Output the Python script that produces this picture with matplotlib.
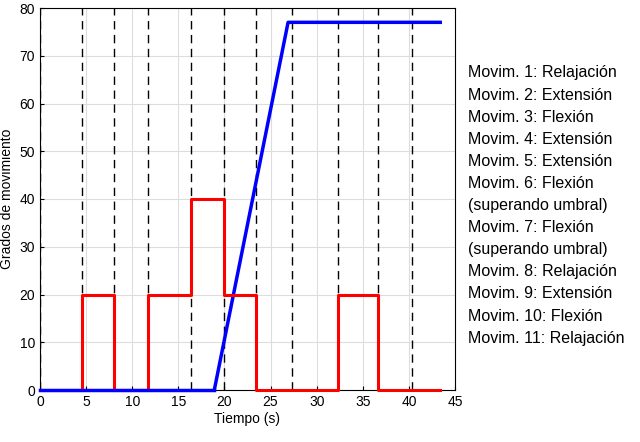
import matplotlib
matplotlib.use("Agg")
from matplotlib import pyplot as plt

plt.rcParams['font.family'] = ['Liberation Sans', 'DejaVu Sans']

# movement boundaries (s)
bounds = [0, 4.6, 8.0, 11.7, 16.4, 20.0, 23.4, 27.3, 32.3, 36.6, 40.3]

# red step signal
red_t = [0, 4.6, 4.6, 8.0, 8.0, 11.7, 11.7, 16.4, 16.4, 20.0, 20.0, 23.4, 23.4, 32.3, 32.3, 36.6, 36.6, 43.4]
red_v = [0, 0, 20, 20, 0, 0, 20, 20, 40, 40, 20, 20, 0, 0, 20, 20, 0, 0]

# blue ramp
blue_t = [0, 18.9, 26.9, 43.4]
blue_v = [0, 0, 77, 77]

labels = ["Movim. 1: Relajación", "Movim. 2: Extensión", "Movim. 3: Flexión",
          "Movim. 4: Extensión", "Movim. 5: Extensión", "Movim. 6: Flexión",
          "(superando umbral)", "Movim. 7: Flexión", "(superando umbral)",
          "Movim. 8: Relajación", "Movim. 9: Extensión", "Movim. 10: Flexión",
          "Movim. 11: Relajación"]

fig = plt.figure(figsize=(6.4, 4.42), dpi=100)
ax = fig.add_axes([40/640, 1-390/442, 415/640, 382/442])

ax.grid(True, color='#dddddd', linewidth=0.8)
for b in bounds:
    ax.axvline(b, color='black', linestyle=(0, (6, 4)), linewidth=1.0)
ax.plot(red_t, red_v, color='red', linewidth=2.2, clip_on=False, zorder=4)
ax.plot(blue_t[:2], blue_v[:2], color='blue', linewidth=2.5, clip_on=False, zorder=5)
ax.plot(blue_t[1:], blue_v[1:], color='blue', linewidth=2.5, clip_on=False, zorder=3)

ax.set_xlim(0, 45)
ax.set_ylim(0, 80)
ax.set_xticks(range(0, 46, 5))
ax.set_yticks(range(0, 81, 10))
ax.tick_params(labelsize=10, direction='in', length=3)
ax.set_xlabel('Tiempo (s)', fontsize=10, labelpad=2)
ax.set_ylabel('Grados de movimiento', fontsize=10, labelpad=4)

y0 = 73
for i, s in enumerate(labels):
    fig.text(468/640, 1 - (y0 + i * 22.1) / 442, s, fontsize=11.5, va='center', ha='left')

fig.savefig('out.png', dpi=100)
